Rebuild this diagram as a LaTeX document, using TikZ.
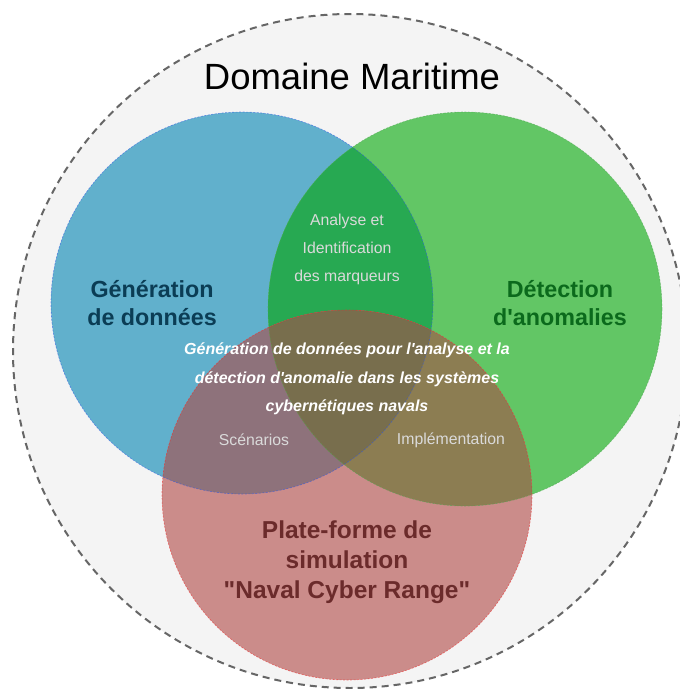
\documentclass[tikz,border=0pt]{standalone}
\usepackage{fontspec}
\setmainfont{Liberation Sans}[Ligatures=TeXOff]
\usepackage{xcolor}
\definecolor{bgGray}{HTML}{F4F4F4}
\definecolor{outerGray}{HTML}{666666}
\definecolor{genBlue}{HTML}{61B0CC}
\definecolor{detGreen}{HTML}{62C665}
\definecolor{simRed}{HTML}{CB8C8A}
\definecolor{genDet}{HTML}{27A952}
\definecolor{genSim}{HTML}{8E727B}
\definecolor{detSim}{HTML}{8C7D52}
\definecolor{allThree}{HTML}{786E4D}
\definecolor{genText}{HTML}{0B3D55}
\definecolor{detText}{HTML}{0B6A1C}
\definecolor{simText}{HTML}{6B2B2B}
\definecolor{smallText}{HTML}{DADADA}

\begin{document}
\begin{tikzpicture}[x=1pt,y=-1pt,
    border/.style={line width=0.6pt,dash pattern=on 2pt off 1.5pt,opacity=0.6},
    title/.style={font=\bfseries\fontsize{23.3}{28}\selectfont,align=center},
    small/.style={font=\fontsize{15.8}{28}\selectfont,align=center,text=smallText}]
                \useasboundingbox (0,0) rectangle (680,689);
                \clip (0,0) rectangle (680,689);
                \coordinate (gen) at (242,303);
                \coordinate (det) at (465,309);
                \coordinate (sim) at (347,495);

                \fill[bgGray] (350,351) circle (337pt);
                \draw[line width=2pt,dash pattern=on 7pt off 5pt,outerGray] (350,351) circle (337pt);

                \fill[genBlue] (gen) circle (191pt);
                \fill[detGreen] (det) circle (197pt);
                \begin{scope}
                    \clip (gen) circle (191pt);
                    \fill[genDet] (det) circle (197pt);
                \end{scope}
                \fill[simRed] (sim) circle (185pt);
                \begin{scope}
                    \clip (sim) circle (185pt);
                    \fill[genSim] (gen) circle (191pt);
                    \fill[detSim] (det) circle (197pt);
                    \clip (gen) circle (191pt);
                    \fill[allThree] (det) circle (197pt);
                \end{scope}

                \draw[border,blue!50!genBlue] (gen) circle (191pt);
                \draw[border,detGreen!85!black] (det) circle (197pt);
                \draw[border,red!70!simRed] (sim) circle (185pt);

                \node (domaine) at (352,76) {\fontsize{36.5}{40}\selectfont Domaine Maritime};
                \node[title,text=genText] (generation) at (152,303) {Génération\\de données};
                \node[title,text=detText] (detection) at (560,303) {Détection\\d'anomalies};
                \node[title,text=simText,font=\bfseries\fontsize{24.5}{30}\selectfont] (plateforme) at (347,562) {Plate-forme de\\simulation\\"Naval Cyber Range"};
                \node[small] (analyse) at (347,249) {Analyse et\\Identification\\des marqueurs};
                \node[small] (scenarios) at (254,440) {Scénarios};
                \node[small] (implementation) at (451,440) {Implémentation};
                \node[align=center,text=white,font=\bfseries\itshape\fontsize{16}{28.5}\selectfont] (objectif) at (347,379)
                    {Génération de données pour l'analyse et la\\détection d'anomalie dans les systèmes\\cybernétiques navals};

            \end{tikzpicture}
\end{document}
